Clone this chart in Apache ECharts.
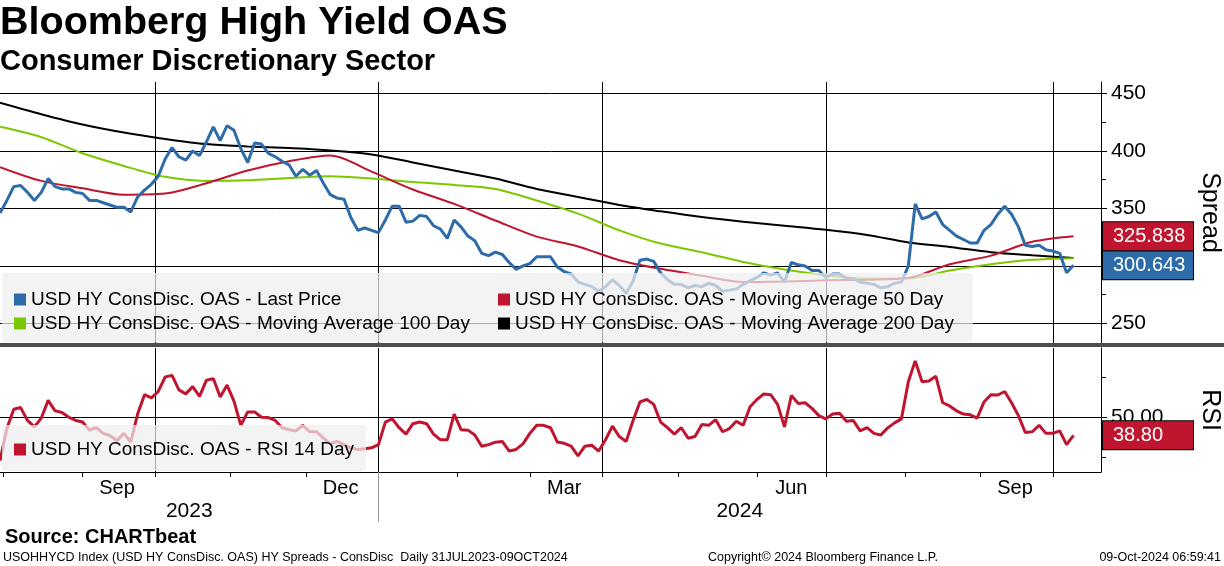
<!DOCTYPE html>
<html>
<head>
<meta charset="utf-8">
<title>Bloomberg High Yield OAS - Consumer Discretionary</title>
<script src="https://cdn.jsdelivr.net/npm/echarts@6/dist/echarts.min.js"></script>
<style>
html, body { margin: 0; padding: 0; background: #fff; }
#chart { width: 1224px; height: 566px; }
</style>
</head>
<body>
<div id="chart"></div>
<script>
// trading-day axis, runs a little past the last print (09 Oct 2024)
var startDay = '2023-07-31';
var endDay = '2024-10-21';

// spread readings, one every 2nd trading day from 31 Jul 2023 to 09 Oct 2024
var priceStep = 2;
var price = [
  346, 357, 369, 370, 364, 357, 364, 376, 369, 367, 367, 364, 363, 357, 357, 355, 353, 351, 351, 347,
  360, 366, 371, 378, 393, 403, 395, 392, 400, 396, 408, 421, 409, 422, 418, 402, 390, 407, 406, 398,
  395, 391, 388, 378, 384, 379, 383, 372, 362, 359, 358, 342, 331, 333, 331, 329, 340, 352, 352, 338,
  339, 344, 343, 335, 332, 324, 340, 334, 326, 322, 311, 309, 312, 310, 303, 297, 300, 302, 308, 308,
  308, 299, 295, 293, 286, 284, 282, 278, 282, 288, 283, 276, 287, 305, 306, 304, 294, 288, 284, 284,
  281, 283, 282, 285, 283, 278, 279, 280, 284, 287, 290, 294, 292, 294, 286, 303, 301, 300, 296, 296,
  290, 293, 293, 289, 289, 286, 285, 284, 281, 282, 285, 286, 300, 354, 341, 343, 347, 336, 331, 326,
  323, 320, 320, 331, 336, 345, 352, 345, 334, 318, 317, 318, 314, 313, 311, 294, 300.643
];

// moving averages, one reading every 12th trading day
var maStep = 12;
var ma50 = [386, 374, 367.5, 362, 363, 372, 383, 391, 396, 382, 366.5, 354, 339.5, 325.5,
  317, 305, 297.5, 291.5, 286, 286.5, 287.5, 288, 289.5, 301.5, 309, 321, 325.838];
var ma100 = [421, 412, 398, 387, 377.5, 374, 374.5, 376.5, 378, 376, 373, 370.5, 367, 357,
  345.5, 331, 319.5, 312, 303.5, 297, 292, 289, 289, 296, 301.5, 305.3, 306.7];
var ma200 = [442, 432, 423, 416, 410.5, 406, 404, 402.5, 400.5, 397, 390, 383, 376, 367,
  360, 353, 347.5, 342.5, 338.5, 335, 331.5, 327, 320.5, 316.5, 312, 309.3, 307];

// RSI 14 day, same spacing as the spread
var rsi = [
  23, 43, 55, 56, 48, 44, 49.5, 60.5, 54, 53, 50, 48, 47, 42, 43.6, 40, 38.5, 35.5, 40, 34.6,
  52, 64, 62, 66, 75, 76, 67, 64.5, 69, 63, 73, 74, 62.6, 70, 60, 45, 53.3, 53.3, 50, 49.8,
  48, 43.5, 42.3, 41.5, 45, 41, 41, 37, 33.6, 35, 33, 31, 30, 30.5, 31, 33, 47, 49, 43.5, 39.5,
  46, 47, 46, 39.5, 36, 36, 52, 42.3, 42, 39, 32, 33, 34.5, 35, 29, 30, 33.5, 40, 45, 45,
  43.5, 34.6, 33.8, 32, 26, 32, 32.6, 29, 36, 44.5, 38, 35, 48, 59.5, 61, 58, 47, 43.5,
  39.5, 43.5, 37, 38, 45.5, 45, 48.5, 41, 43, 47.5, 45, 56.5, 61, 64.5, 64, 58, 44, 63.5, 58.5, 59,
  55.5, 51, 49, 52, 52.5, 47.5, 48, 41.5, 43.6, 40, 39, 43.4, 46.5, 49, 72, 85, 72, 72.5, 75.5, 59,
  57, 54, 52, 51.5, 49.5, 59.5, 64, 63.8, 66, 59, 51, 40.5, 41, 45, 40, 40, 41.5, 33, 38.8
];

var spreadTicks = [250, 300, 350, 400, 450];
var spreadMinor = [275, 325, 375, 425];
var rsiTicks = [50];
var rsiMinor = [25, 75];
var monthNames = ['Jan', 'Feb', 'Mar', 'Apr', 'May', 'Jun', 'Jul', 'Aug', 'Sep', 'Oct', 'Nov', 'Dec'];
var labelMonths = [2, 5, 8, 11];
var gridMonths = [0, 3, 6, 9];

var names = [
  'USD HY ConsDisc. OAS - Last Price',
  'USD HY ConsDisc. OAS - Moving Average 50 Day',
  'USD HY ConsDisc. OAS - Moving Average 100 Day',
  'USD HY ConsDisc. OAS - Moving Average 200 Day',
  'USD HY ConsDisc. OAS - RSI 14 Day'
];

var FONT = 'Liberation Sans';
var BLUE = '#2d6ca8', RED = '#c0152f', GREEN = '#7cc800';

// weekday categories
var days = [];
var d = new Date(startDay + 'T00:00:00Z');
var stop = new Date(endDay + 'T00:00:00Z');
while (d <= stop) {
  var wd = d.getUTCDay();
  if (wd != 0 && wd != 6) days.push(d.toISOString().slice(0, 10));
  d.setUTCDate(d.getUTCDate() + 1);
}

function month(i) { return +days[i].slice(5, 7) - 1; }
function monthStart(i) { return i > 0 && days[i].slice(0, 7) != days[i - 1].slice(0, 7); }
function yearStart(i) { return i > 0 && days[i].slice(0, 4) != days[i - 1].slice(0, 4); }

// middle index of each month / year on the axis (labels sit there)
function middles(len) {
  var first = {}, last = {}, out = {};
  days.forEach(function (s, i) {
    var k = s.slice(0, len);
    if (!(k in first)) first[k] = i;
    last[k] = i;
  });
  for (var k in first) out[Math.round((first[k] + last[k]) / 2)] = k;
  return out;
}
var monthMid = middles(7);
var yearMid = middles(4);

function pts(vals, step) {
  return vals.map(function (v, i) { return [i * step, v]; });
}

// value tag on the right axis
function tag(value, color, digits, z) {
  return {
    silent: true,
    symbol: ['none', 'none'],
    z: z,
    animation: false,
    lineStyle: { color: 'rgba(0,0,0,0)', width: 0, type: 'solid' },
    data: [{ yAxis: value }],
    label: {
      show: true, position: 'end', distance: 2,
      formatter: value.toFixed(digits),
      color: '#fff', backgroundColor: color, opacity: 1,
      borderColor: '#000', borderWidth: 1,
      padding: [4, 10, 3, 10], width: 70,
      fontFamily: FONT, fontSize: 20, lineHeight: 21
    },
    emphasis: { disabled: true }
  };
}

var chart = echarts.init(document.getElementById('chart'));

var axisText = { fontFamily: FONT, color: '#000' };
var legendRich = { width: 462, fontFamily: FONT, fontSize: 19, lineHeight: 14, color: '#000' };

var option = {
  animation: false,
  backgroundColor: '#fff',
  title: [
    { text: 'Bloomberg High Yield OAS', left: 0, top: 3, padding: 0,
      textStyle: { fontFamily: FONT, fontWeight: 'bold', fontSize: 39.5, color: '#000' } },
    { text: 'Consumer Discretionary Sector', left: 0, top: 47, padding: 0,
      textStyle: { fontFamily: FONT, fontWeight: 'bold', fontSize: 29, color: '#000' } },
    { text: 'Source: CHARTbeat', left: 5, top: 527, padding: 0,
      textStyle: { fontFamily: FONT, fontWeight: 'bold', fontSize: 20, color: '#000' } },
    { text: 'USOHHYCD Index (USD HY ConsDisc. OAS) HY Spreads - ConsDisc  Daily 31JUL2023-09OCT2024', left: 3, top: 551, padding: 0,
      textStyle: { fontFamily: FONT, fontWeight: 'normal', fontSize: 12.5, color: '#000' } },
    { text: 'Copyright\u00a9 2024 Bloomberg Finance L.P.', left: 708, top: 551, padding: 0,
      textStyle: { fontFamily: FONT, fontWeight: 'normal', fontSize: 12.5, color: '#000' } },
    { text: '09-Oct-2024 06:59:41', right: 3, top: 551, padding: 0,
      textStyle: { fontFamily: FONT, fontWeight: 'normal', fontSize: 12.5, color: '#000' } }
  ],
  legend: [
    {
      left: 2, top: 273, width: 1000, orient: 'horizontal',
      padding: [17, 12, 9, 12], itemGap: 5, itemWidth: 12, itemHeight: 12,
      icon: 'rect', backgroundColor: 'rgba(238,238,238,0.72)', borderRadius: 4,
      selectedMode: false, z: 10,
      data: names.slice(0, 4),
      // first column gets a fixed width so the second column lines up
      formatter: function (n) {
        return (n == names[0] || n == names[2] ? '{t|' : '{u|') + n + '}';
      },
      textStyle: { fontFamily: FONT, fontSize: 19, color: '#000',
        rich: { t: legendRich, u: Object.assign({}, legendRich, { width: 446 }) } }
    },
    {
      left: 2, top: 425, orient: 'horizontal',
      padding: [15, 12, 12, 12], itemWidth: 12, itemHeight: 12,
      icon: 'rect', backgroundColor: 'rgba(238,238,238,0.72)', borderRadius: 4,
      selectedMode: false, z: 10,
      data: [names[4]],
      textStyle: { fontFamily: FONT, fontSize: 19, color: '#000' }
    }
  ],
  grid: [
    { left: 0, right: 123, top: 82, height: 261, outerBoundsMode: 'none' },
    { left: 0, right: 123, top: 348, height: 124, outerBoundsMode: 'none' }
  ],
  xAxis: [
    {
      gridIndex: 0, type: 'category', data: days, boundaryGap: false,
      axisLine: { show: false }, axisTick: { show: false }, axisLabel: { show: false },
      splitLine: { show: true, interval: function (i) { return monthStart(i) && gridMonths.indexOf(month(i)) >= 0; },
        lineStyle: { color: '#000', width: 1 } }
    },
    {
      gridIndex: 1, type: 'category', data: days, boundaryGap: false,
      axisLine: { show: true, lineStyle: { color: '#000', width: 1 } },
      axisTick: { show: true, interval: function (i) { return monthStart(i); }, length: 5, lineStyle: { color: '#000' } },
      axisLabel: {
        show: true, margin: 6, fontFamily: FONT, fontSize: 20, color: '#000',
        interval: function (i) { return (i in monthMid) && labelMonths.indexOf(month(i)) >= 0; },
        formatter: function (v) { return monthNames[+v.slice(5, 7) - 1]; }
      },
      splitLine: { show: true, interval: function (i) { return monthStart(i) && gridMonths.indexOf(month(i)) >= 0; },
        lineStyle: { color: '#000', width: 1 } }
    },
    {
      gridIndex: 1, type: 'category', data: days, boundaryGap: false, position: 'bottom',
      axisLine: { show: false },
      axisTick: { show: true, interval: function (i) { return yearStart(i); }, length: 50, lineStyle: { color: '#999' } },
      axisLabel: {
        show: true, margin: 29, fontFamily: FONT, fontSize: 21, color: '#000',
        interval: function (i) { return i in yearMid; },
        formatter: function (v) { return v.slice(0, 4); }
      },
      splitLine: { show: false }
    }
  ],
  yAxis: [
    {
      gridIndex: 0, type: 'value', position: 'right', min: 233, max: 460,
      axisLine: { show: true, lineStyle: { color: '#000', width: 1 } },
      axisTick: { show: true, customValues: spreadTicks, length: 6, lineStyle: { color: '#000' } },
      axisLabel: Object.assign({ show: true, customValues: spreadTicks, margin: 10, fontSize: 21 }, axisText),
      splitLine: { show: true, lineStyle: { color: '#000', width: 1 } },
      name: 'Spread', nameLocation: 'middle', nameRotate: -90, nameGap: 96,
      nameTextStyle: Object.assign({ fontSize: 25 }, axisText)
    },
    {
      gridIndex: 0, type: 'value', position: 'right', min: 233, max: 460,
      axisLine: { show: false },
      axisTick: { show: true, customValues: spreadMinor, length: 5, lineStyle: { color: '#000' } },
      axisLabel: { show: false }, splitLine: { show: false }
    },
    {
      gridIndex: 1, type: 'value', position: 'right', min: 16, max: 93,
      axisLine: { show: true, lineStyle: { color: '#000', width: 1 } },
      axisTick: { show: true, customValues: rsiTicks, length: 6, lineStyle: { color: '#000' } },
      axisLabel: Object.assign({ show: true, customValues: rsiTicks, margin: 10, fontSize: 21,
        formatter: function (v) { return v.toFixed(2); } }, axisText),
      splitLine: { show: true, lineStyle: { color: '#000', width: 1 } },
      name: 'RSI', nameLocation: 'middle', nameRotate: -90, nameGap: 96,
      nameTextStyle: Object.assign({ fontSize: 25 }, axisText)
    },
    {
      gridIndex: 1, type: 'value', position: 'right', min: 16, max: 93,
      axisLine: { show: false },
      axisTick: { show: true, customValues: rsiMinor, length: 5, lineStyle: { color: '#000' } },
      axisLabel: { show: false }, splitLine: { show: false }
    }
  ],
  graphic: [
    { type: 'rect', left: 0, top: 343, z: 20, shape: { width: 1224, height: 4 }, style: { fill: '#4d4d4d' } }
  ],
  series: [
    {
      name: names[3], type: 'line', xAxisIndex: 0, yAxisIndex: 0, z: 2,
      data: pts(ma200, maStep), smooth: 0.3, showSymbol: false, color: '#000',
      lineStyle: { width: 2, color: '#000' }
    },
    {
      name: names[2], type: 'line', xAxisIndex: 0, yAxisIndex: 0, z: 3,
      data: pts(ma100, maStep), smooth: 0.3, showSymbol: false, color: GREEN,
      lineStyle: { width: 2, color: GREEN },
      markLine: tag(ma100[ma100.length - 1], GREEN, 3, 6)
    },
    {
      name: names[1], type: 'line', xAxisIndex: 0, yAxisIndex: 0, z: 4,
      data: pts(ma50, maStep), smooth: 0.3, showSymbol: false, color: RED,
      lineStyle: { width: 2, color: RED },
      markLine: tag(ma50[ma50.length - 1], RED, 3, 8)
    },
    {
      name: names[0], type: 'line', xAxisIndex: 0, yAxisIndex: 0, z: 5,
      data: pts(price, priceStep), showSymbol: false, color: BLUE,
      lineStyle: { width: 3, color: BLUE },
      markLine: tag(price[price.length - 1], BLUE, 3, 7)
    },
    {
      name: names[4], type: 'line', xAxisIndex: 1, yAxisIndex: 2, z: 5,
      data: pts(rsi, priceStep), showSymbol: false, color: RED,
      lineStyle: { width: 3, color: RED },
      markLine: tag(rsi[rsi.length - 1], RED, 2, 7)
    }
  ]
};

chart.setOption(option);
</script>
</body>
</html>
